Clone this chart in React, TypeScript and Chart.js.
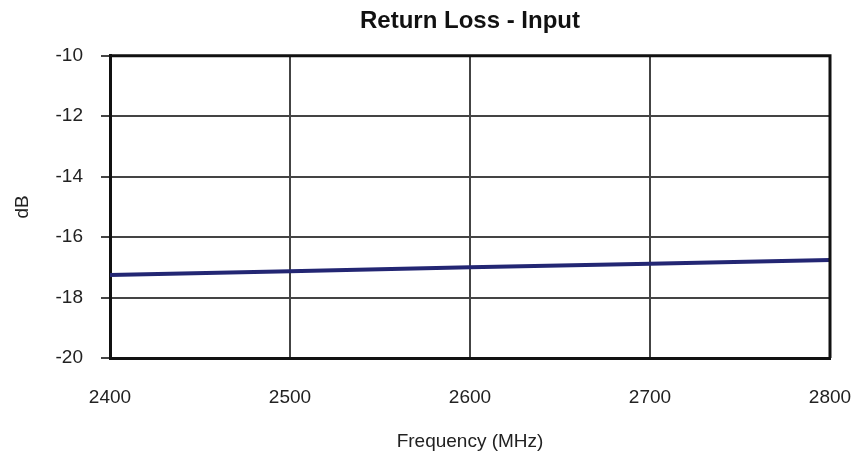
import React, { useEffect, useRef } from "react";
import { Chart, registerables } from "chart.js";

Chart.register(...registerables);

const frequencies = [2400, 2500, 2600, 2700, 2800];
const returnLoss = [-17.25, -17.13, -17.0, -16.88, -16.76];
const xTicks = [2400, 2500, 2600, 2700, 2800];
const yTicks = [-20, -18, -16, -14, -12, -10];

export default function App() {
  const ref = useRef<HTMLCanvasElement | null>(null);
  useEffect(() => {
    document.body.style.margin = "0";
    const ctx = ref.current!;
    const font = "'Liberation Sans', Arial, Helvetica, sans-serif";
    const chart = new Chart(ctx, {
      type: "line",
      data: {
        datasets: [
          {
            data: frequencies.map((f, i) => ({ x: f, y: returnLoss[i] })),
            borderColor: "#232673",
            borderWidth: 4,
            pointRadius: 0,
            tension: 0,
          },
        ],
      },
      options: {
        animation: false,
        responsive: false,
        devicePixelRatio: 1,
        layout: { padding: { left: 0, right: 21, top: 0, bottom: 0 } },
        plugins: {
          legend: { display: false },
          tooltip: { enabled: false },
          title: {
            display: true,
            text: "Return Loss - Input",
            fullSize: false,
            color: "#111",
            font: { family: font, size: 24, weight: "bold" },
            padding: { top: 7, bottom: 20 },
          },
        },
        scales: {
          x: {
            type: "linear",
            min: 2400,
            max: 2800,
            afterBuildTicks: (s: any) => {
              s.ticks = xTicks.map((v) => ({ value: v }));
            },
            afterFit: (s: any) => {
              s.height = 95;
              s.paddingLeft = 0;
              s.paddingRight = 0;
            },
            grid: { color: "#444", lineWidth: 2, drawTicks: false },
            border: { color: "#111", width: 3 },
            ticks: {
              color: "#222",
              font: { family: font, size: 19 },
              padding: 28,
              callback: (v: any) => String(v),
            },
            title: {
              display: true,
              text: "Frequency (MHz)",
              color: "#222",
              font: { family: font, size: 19 },
              padding: { top: 2, bottom: 0 },
            },
          },
          y: {
            min: -20,
            max: -10,
            afterBuildTicks: (s: any) => {
              s.ticks = yTicks.map((v) => ({ value: v }));
            },
            afterFit: (s: any) => {
              s.width = 110;
            },
            grid: { color: "#444", lineWidth: 2, tickLength: 9 },
            border: { color: "#111", width: 3 },
            ticks: {
              color: "#222",
              font: { family: font, size: 19 },
              padding: 18,
              callback: (v: any) => String(v),
            },
            title: {
              display: true,
              text: "dB",
              color: "#222",
              font: { family: font, size: 19 },
              padding: { top: 11, bottom: 0 },
            },
          },
        },
      },
      plugins: [
        {
          id: "frame",
          afterDraw(c: any) {
            const a = c.chartArea;
            const g = c.ctx;
            g.save();
            g.strokeStyle = "#111";
            g.lineWidth = 3;
            g.beginPath();
            g.moveTo(a.left, a.top);
            g.lineTo(a.right, a.top);
            g.lineTo(a.right, a.bottom);
            g.stroke();
            g.restore();
          },
        },
      ],
    } as any);
    return () => chart.destroy();
  }, []);
  return (
    <div style={{ position: "absolute", left: 0, top: 0, width: 851, height: 453, background: "#fff" }}>
      <canvas ref={ref} width={851} height={453} />
    </div>
  );
}
